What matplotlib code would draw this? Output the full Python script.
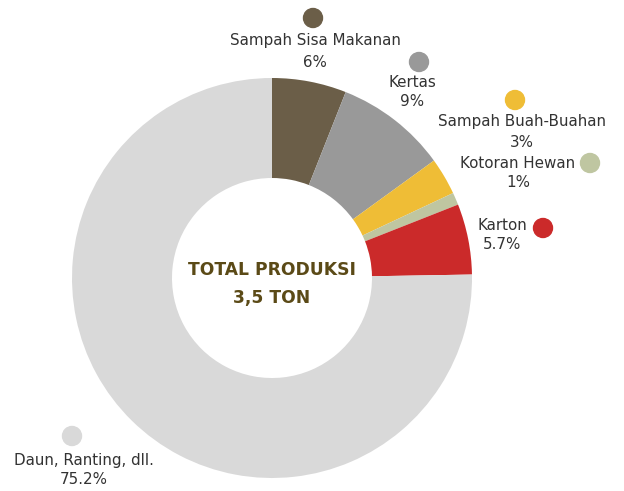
import matplotlib.pyplot as plt

# data
labels = ['Sampah Sisa Makanan', 'Kertas', 'Sampah Buah-Buahan',
          'Kotoran Hewan', 'Karton', 'Daun, Ranting, dll.']
values = [6, 9, 3, 1, 5.7, 75.2]
pct_text = ['6%', '9%', '3%', '1%', '5.7%', '75.2%']
colors = ['#6B5E48', '#999999', '#EFBD36', '#BFC6A1', '#CB2A2A', '#D9D9D9']

# label placement (pixels, y from top): dot x, dot y, text x, name y, pct y
dots = [(313, 18), (419, 62), (515, 100), (590, 163), (543, 228), (72, 436)]
texts = [(315, 40, 62), (412, 82, 101), (522, 121, 142),
         (518, 163, 182), (502, 225, 244), (84, 460, 479)]

W, H = 624, 491
fig = plt.figure(figsize=(W / 100, H / 100), dpi=100)
ax = fig.add_axes([0, 0, 1, 1])

ax.pie(values, colors=colors, startangle=90, counterclock=False,
       center=(272, H - 278), radius=200,
       wedgeprops=dict(width=100, linewidth=0))

# pie resets the limits, so set them afterwards
ax.set_xlim(0, W)
ax.set_ylim(0, H)
ax.set_aspect('equal')
ax.axis('off')

for (dx, dy), (tx, ny, py), name, p, c in zip(dots, texts, labels, pct_text, colors):
    ax.add_patch(plt.Circle((dx, H - dy), 9.5, color=c, zorder=3))
    ax.text(tx, H - ny, name, ha='center', va='center', fontsize=10.9, color='#333333')
    ax.text(tx, H - py, p, ha='center', va='center', fontsize=10.9, color='#333333')

ax.text(272, H - 270, 'TOTAL PRODUKSI', ha='center', va='center',
        fontsize=12.3, fontweight='bold', color='#5B4A17')
ax.text(272, H - 298, '3,5 TON', ha='center', va='center',
        fontsize=12.3, fontweight='bold', color='#5B4A17')

fig.savefig('out.png', dpi=100)
